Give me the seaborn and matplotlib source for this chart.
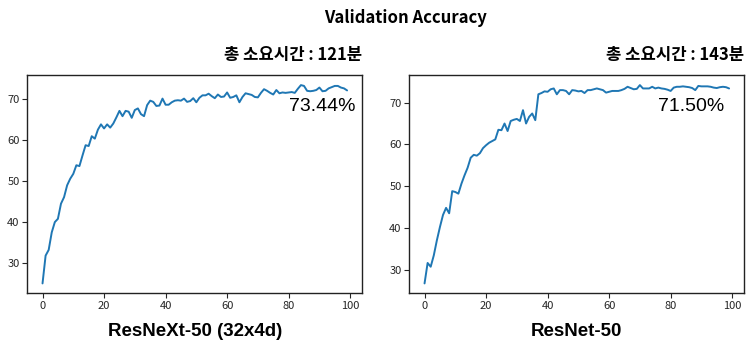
import numpy as np
import pandas as pd
import matplotlib
matplotlib.use('Agg')
import matplotlib.pyplot as plt
import seaborn as sns

# Validation accuracy per epoch
epochs = list(range(100))

resnext_acc = [25.0, 31.8, 33.2, 37.5, 40.0, 40.8, 44.5, 46.1, 49.0, 50.6,
               51.8, 53.9, 53.7, 56.3, 58.8, 58.6, 61.0, 60.4, 62.6, 63.9,
               62.9, 63.9, 63.1, 64.1, 65.6, 67.2, 65.9, 67.2, 67.0, 65.5,
               67.4, 67.8, 66.4, 65.9, 68.6, 69.7, 69.4, 68.4, 68.5, 70.2,
               68.7, 68.7, 69.3, 69.7, 69.8, 69.7, 70.2, 69.4, 69.6, 70.3,
               69.3, 70.4, 71.0, 71.0, 71.4, 70.8, 70.3, 71.2, 70.6, 70.7,
               71.7, 70.4, 70.6, 71.0, 69.3, 70.6, 71.5, 71.3, 71.1, 70.6,
               70.5, 71.6, 72.5, 72.1, 71.6, 71.2, 72.3, 71.5, 71.7, 71.6,
               71.7, 71.8, 71.6, 72.6, 73.5, 73.3, 72.1, 72.0, 72.1, 72.3,
               72.9, 72.0, 72.1, 72.7, 73.0, 73.3, 73.3, 72.9, 72.7, 72.2]

resnet_acc = [26.7, 31.6, 30.7, 33.4, 37.0, 40.2, 43.1, 44.8, 43.5, 48.8,
              48.6, 48.2, 50.6, 52.6, 54.4, 56.8, 57.5, 57.3, 57.9, 59.1,
              59.8, 60.4, 60.8, 61.2, 63.5, 63.4, 65.0, 63.2, 65.6, 65.9,
              66.1, 65.6, 68.2, 65.0, 66.6, 67.4, 65.8, 72.0, 72.3, 72.7,
              72.6, 73.2, 73.4, 72.0, 73.0, 73.0, 72.8, 72.0, 73.0, 72.9,
              72.7, 72.8, 72.3, 73.0, 73.0, 73.2, 73.4, 73.2, 73.0, 72.4,
              72.6, 72.8, 72.8, 72.8, 73.0, 73.3, 73.8, 73.5, 73.2, 73.3,
              74.2, 73.4, 73.4, 73.4, 73.8, 73.4, 73.6, 73.4, 73.3, 73.1,
              72.8, 73.6, 73.8, 73.8, 73.9, 73.8, 73.7, 73.5, 73.0, 74.0,
              73.9, 73.9, 73.9, 73.8, 73.6, 73.5, 73.7, 73.8, 73.7, 73.4]

model_names = ['ResNeXt-50 (32x4d)', 'ResNet-50']
train_times = ['총 소요시간 : 121분', '총 소요시간 : 143분']
best_labels = ['73.44%', '71.50%']
series = [resnext_acc, resnet_acc]

sns.set_style('ticks')
plt.rcParams['font.family'] = ['Noto Sans CJK KR', 'DejaVu Sans']

fig = plt.figure(figsize=(7.52, 3.53), dpi=100)
ax1 = fig.add_axes([0.0363, 0.169, 0.4455, 0.618])
ax2 = fig.add_axes([0.5443, 0.169, 0.4455, 0.618])

label_pos = [(0.981, 0.857), (0.94, 0.855)]

for ax, acc, name, ttime, lbl, pos in zip([ax1, ax2], series, model_names,
                                          train_times, best_labels, label_pos):
    df = pd.DataFrame({'epoch': epochs, 'acc': acc})
    sns.lineplot(data=df, x='epoch', y='acc', ax=ax, color='#1f77b4', linewidth=1.4)
    ax.set_xticks([0, 20, 40, 60, 80, 100])
    ax.set_yticks([30, 40, 50, 60, 70])
    ax.tick_params(labelsize=8, length=3.5, width=0.8, pad=2)
    ax.set_ylabel('')
    ax.set_xlabel(name, fontsize=13.5, fontweight='bold', color='black',
                  family=['Liberation Sans', 'DejaVu Sans'], labelpad=9)
    ax.set_title(ttime, loc='right', fontsize=12, fontweight='bold', color='black', pad=11)
    ax.text(pos[0], pos[1], lbl, transform=ax.transAxes, ha='right', va='center',
            fontsize=14, color='black', family=['Liberation Sans', 'DejaVu Sans'])
    for sp in ax.spines.values():
        sp.set_color('#222222')
        sp.set_linewidth(1.0)

fig.suptitle('Validation Accuracy', x=0.539, y=0.975, fontsize=12,
             fontweight='heavy', color='black')

fig.savefig('out.png', dpi=100)
